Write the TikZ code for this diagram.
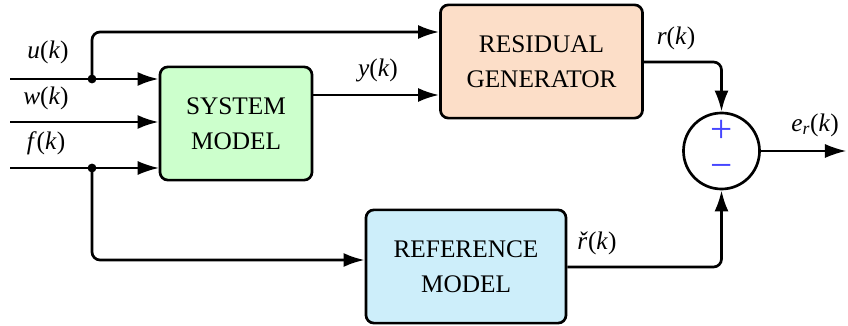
\documentclass[tikz,border=0pt]{standalone}
\usepackage{fontspec}
\setmainfont{Liberation Serif}
\usepackage{xcolor}
\usetikzlibrary{arrows.meta}

\definecolor{sysgreen}{RGB}{204,255,204}
\definecolor{respeach}{RGB}{252,222,200}
\definecolor{refblue}{RGB}{205,238,250}
\definecolor{signblue}{RGB}{70,70,255}

\begin{document}
\begin{tikzpicture}[x=0.025cm, y=-0.025cm,
    font=\fontsize{18}{21}\selectfont,
    block/.style={rectangle, draw, line width=1.9pt, rounded corners=0.2cm, align=center, inner sep=0pt},
    sig/.style={-{Latex[length=15pt, width=10pt]}, line width=1.9pt, rounded corners=0.2cm},
    thinsig/.style={-{Latex[length=15pt, width=10pt]}, line width=1pt},
    sign/.style={text=signblue, inner sep=0pt, font=\fontsize{28}{30}\selectfont},
    dot/.style={circle, fill, inner sep=0pt, minimum size=0.22cm}]
    \useasboundingbox (0,0) rectangle (848,326);

    % Blocks
    \node (sys) [block, fill=sysgreen, minimum width=3.8cm, minimum height=2.83cm] at (236,123.5) {SYSTEM\\[4pt]MODEL};
    \node (res) [block, fill=respeach, minimum width=5.05cm, minimum height=2.83cm] at (541.5,61.5) {RESIDUAL\\[4pt]GENERATOR};
    \node (ref) [block, fill=refblue, minimum width=5cm, minimum height=2.83cm] at (466,266.5) {REFERENCE\\[4pt]MODEL};
    \node (sum) [circle, draw, line width=1.9pt, minimum size=1.9cm, inner sep=0pt] at (721.5,151) {};
    \node (plus) [sign] at (721.5,131) {+};
    \node (minus) [sign] at (721.5,171) {−};

    % Points
    \coordinate (uin) at (10,79);
    \coordinate (win) at (10,122);
    \coordinate (fin) at (10,168);
    \coordinate (ju) at (92,79);
    \coordinate (jf) at (92,168);
    \coordinate (utop) at (92,32);
    \coordinate (fbot) at (92,260);
    \coordinate (ylev) at (0,95);
    \coordinate (rlev) at (0,62);
    \coordinate (rclev) at (0,267);
    \coordinate (eout) at (846,151);

    % Connections
    \draw [sig] (uin) -- (sys.west |- uin);
    \draw [sig] (win) -- (sys.west |- win);
    \draw [thinsig] (fin) -- (sys.west |- fin);
    \draw [sig] (ju) -- (utop) -- (res.west |- utop);
    \draw [sig] (jf) -- (fbot) -- (ref.west |- fbot);
    \draw [sig] (sys.east |- ylev) -- (res.west |- ylev);
    \draw [sig] (res.east |- rlev) -| (sum.north);
    \draw [sig] (ref.east |- rclev) -| (sum.south);
    \draw [thinsig] (sum.east) -- (eout);
    \node (jud) [dot] at (ju) {};
    \node (jfd) [dot] at (jf) {};

    % Labels
    \node (ulab) at (48,52) {\textit{u}(\textit{k})};
    \node (wlab) at (46,98) {\textit{w}(\textit{k})};
    \node (flab) at (46,143) {\textit{f}(\textit{k})};
    \node (ylab) at (378,70) {\textit{y}(\textit{k})};
    \node (rlab) at (676,38) {\textit{r}(\textit{k})};
    \node (elab) at (815,125) {\textit{e}\textsubscript{\textit{r}}(\textit{k})};
    \node (rclab) at (597,243) {\textit{ř}(\textit{k})};
\end{tikzpicture}
\end{document}
